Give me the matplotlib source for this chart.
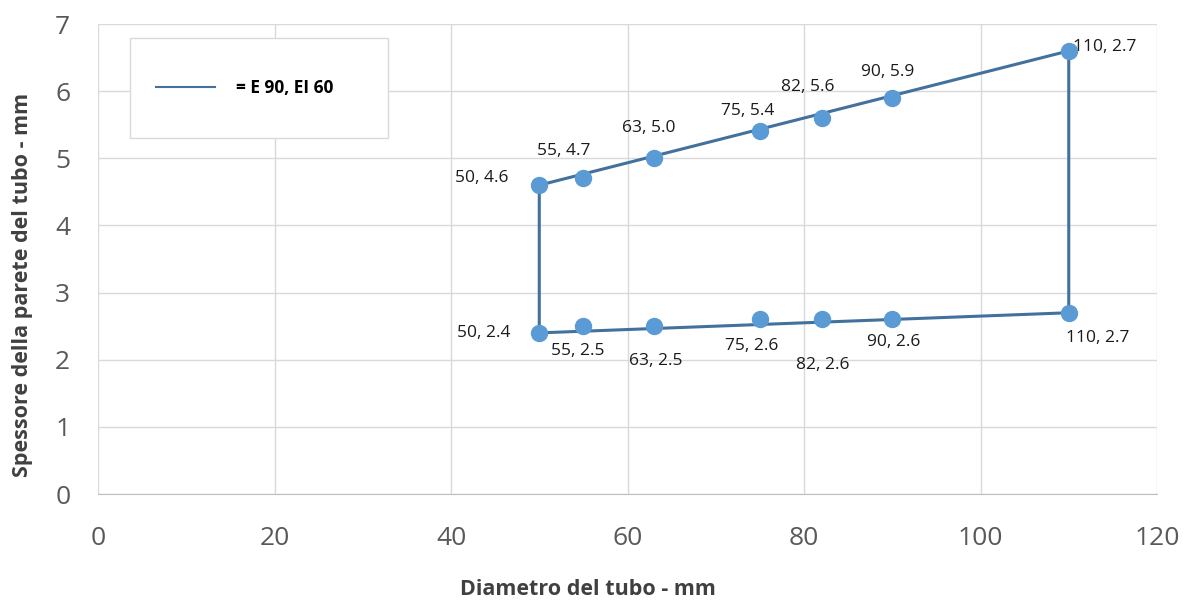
import matplotlib.pyplot as plt
from matplotlib.patches import Rectangle

# --- data ---
diam = [50, 55, 63, 75, 82, 90, 110]
spess_min = [2.4, 2.5, 2.5, 2.6, 2.6, 2.6, 2.7]
spess_max = [4.6, 4.7, 5.0, 5.4, 5.6, 5.9, 6.6]
lbl_min = ['50, 2.4', '55, 2.5', '63, 2.5', '75, 2.6', '82, 2.6', '90, 2.6', '110, 2.7']
lbl_max = ['50, 4.6', '55, 4.7', '63, 5.0', '75, 5.4', '82, 5.6', '90, 5.9', '110, 2.7']

# outline of the region (closed polygon)
edge_x = [50, 110, 110, 50, 50]
edge_y = [2.4, 2.7, 6.6, 4.6, 2.4]

# label offsets in points (dx, dy, ha)
off_min = [(-21, 0, 'right'), (-4, -18, 'center'), (1, -25, 'center'), (-6, -19, 'center'),
           (1, -33, 'center'), (1, -16, 'center'), (21, -18, 'center')]
off_max = [(-22, 5, 'right'), (-14, 20, 'center'), (-4, 22, 'center'), (-9, 15, 'center'),
           (-10, 22, 'center'), (-3, 19, 'center'), (3, 3, 'left')]

plt.rcParams['font.family'] = ['Open Sans', 'DejaVu Sans']

fig = plt.figure(figsize=(11.84, 6.01), dpi=100)
ax = fig.add_axes([0.0828, 0.178, 0.8944, 0.782])

ln, = ax.plot(edge_x, edge_y, color='#41719C', lw=2.2, zorder=3, label='= E 90, EI 60')
ax.plot(diam, spess_min, 'o', color='#5B9BD5', ms=11.5, zorder=4)
ax.plot(diam, spess_max, 'o', color='#5B9BD5', ms=11.5, zorder=4)

for x, y, t, (dx, dy, ha) in zip(diam, spess_min, lbl_min, off_min):
    ax.annotate(t, (x, y), xytext=(dx, dy), textcoords='offset points', ha=ha, va='center',
                fontsize=12.5, color='#1a1a1a')
for x, y, t, (dx, dy, ha) in zip(diam, spess_max, lbl_max, off_max):
    ax.annotate(t, (x, y), xytext=(dx, dy), textcoords='offset points', ha=ha, va='center',
                fontsize=12.5, color='#1a1a1a')

ax.set_xlim(0, 120)
ax.set_ylim(0, 7)
ax.set_xticks(range(0, 121, 20))
ax.set_yticks(range(0, 8))
ax.grid(True, color='#d9d9d9', lw=1)
ax.set_axisbelow(True)
for s in ['top', 'right', 'left']:
    ax.spines[s].set_visible(False)
ax.spines['bottom'].set_color('#bfbfbf')
ax.tick_params(length=0, labelsize=19, colors='#595959')
ax.tick_params(axis='y', pad=20)
ax.tick_params(axis='x', pad=23)

ax.set_xlabel('Diametro del tubo - mm', fontsize=15.5, fontweight='bold', color='#404040')
ax.set_ylabel('Spessore della parete del tubo - mm', fontsize=15.5, fontweight='bold', color='#404040')
ax.xaxis.set_label_coords(0.463, -0.180)
ax.yaxis.set_label_coords(-0.061, 0.445)

# legend box
ax.add_patch(Rectangle((0.030, 0.757), 0.244, 0.213, transform=ax.transAxes,
                       facecolor='white', edgecolor='#d9d9d9', lw=1, zorder=5))
leg = ax.legend(handles=[ln], loc='center left', bbox_to_anchor=(0.040, 0.863), frameon=False,
                handlelength=3.4, handletextpad=1.2, prop={'size': 12.5, 'weight': 'bold'})
leg.get_lines()[0].set_linewidth(1.5)
leg.set_zorder(6)

fig.savefig('out.png', dpi=100)
